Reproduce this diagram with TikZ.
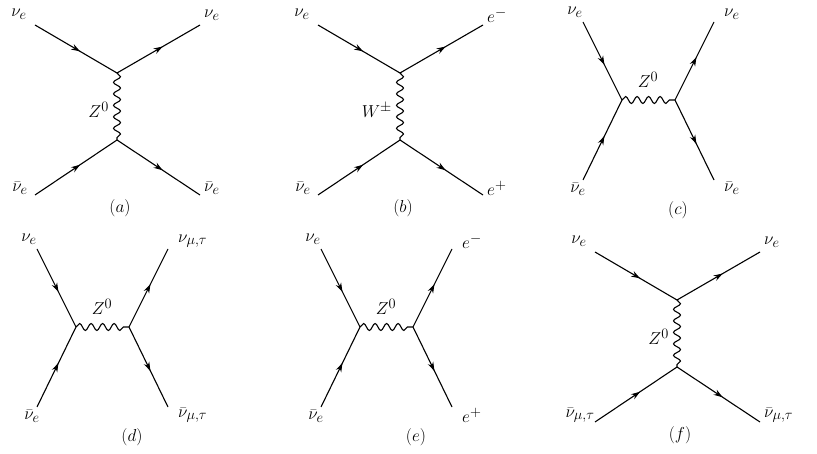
\documentclass[tikz,border=0pt]{standalone}
\usetikzlibrary{decorations.markings,decorations.pathmorphing,arrows.meta}
\begin{document}
\begin{tikzpicture}[x=1pt,y=-1pt,font=\fontsize{19}{23}\selectfont,
  fermion/.style={line width=1.1pt,postaction={decorate},decoration={markings,mark=at position 0.55 with {\arrow{Stealth[length=9pt,width=6pt]}}}},
  boson/.style={line width=1.1pt,decorate,decoration={snake,segment length=11.5pt,amplitude=3.5pt}},
  lab/.style={inner sep=1pt}]
\useasboundingbox (0,0) rectangle (817,454);
% generic t-channel diagram
\newcommand{\tdiag}[9]{% #1 name, #2 xshift,#3 yshift, #4 TL,#5 TR,#6 BL,#7 BR,#8 boson,#9 caption
 \begin{scope}[shift={(#2,#3)}]
 \coordinate (#1tl) at (35,25); \coordinate (#1tr) at (200,25);
 \coordinate (#1bl) at (35,195); \coordinate (#1br) at (200,195);
 \coordinate (#1v1) at (117,73); \coordinate (#1v2) at (117,140);
 \draw[fermion] (#1tl) -- (#1v1); \draw[fermion] (#1v1) -- (#1tr);
 \draw[fermion] (#1bl) -- (#1v2); \draw[fermion] (#1v2) -- (#1br);
 \draw[boson] (#1v1) -- (#1v2);
 \node[lab] (#1a) at (19,14) {$#4$}; \node[lab,anchor=west] (#1b) at (203,15) {$#5$};
 \node[lab] (#1c) at (20,188) {$#6$}; \node[lab,anchor=west] (#1d) at (203,188) {$#7$};
 \node[lab,anchor=east] (#1z) at (110,110) {$#8$};
 \node[lab] (#1cap) at (120,208) {$#9$};
 \end{scope}}
\newcommand{\sdiag}[9]{%
 \begin{scope}[shift={(#2,#3)}]
 \coordinate (#1tl) at (37,22); \coordinate (#1tr) at (168,22);
 \coordinate (#1bl) at (37,180); \coordinate (#1br) at (168,180);
 \coordinate (#1v1) at (76,100); \coordinate (#1v2) at (129,100);
 \draw[fermion] (#1tl) -- (#1v1); \draw[fermion] (#1bl) -- (#1v1);
 \draw[fermion] (#1v2) -- (#1tr); \draw[fermion] (#1v2) -- (#1br);
 \draw[boson] (#1v1) -- (#1v2);
 \node[lab] (#1a) at (29,12) {$#4$}; \node[lab,anchor=west] (#1b) at (177,14) {$#5$};
 \node[lab] (#1c) at (32,189) {$#6$}; \node[lab,anchor=west] (#1d) at (177,188) {$#7$};
 \node[lab] (#1z) at (102,80) {$#8$};
 \node[lab] (#1cap) at (132,210) {$#9$};
 \end{scope}}
\tdiag{a}{0}{0}{\nu_e}{\nu_e}{\bar\nu_e}{\bar\nu_e}{Z^0}{(a)}
\tdiag{b}{283}{0}{\nu_e}{e^-}{\bar\nu_e}{e^+}{W^\pm}{(b)}
\sdiag{c}{546}{0}{\nu_e}{\nu_e}{\bar\nu_e}{\bar\nu_e}{Z^0}{(c)}
\sdiag{d}{0}{227}{\nu_e}{\nu_{\mu,\tau}}{\bar\nu_e}{\bar\nu_{\mu,\tau}}{Z^0}{(d)}
\sdiag{e}{284}{227}{\nu_e}{e^-}{\bar\nu_e}{e^+}{Z^0}{(e)}
\tdiag{f}{560}{227}{\nu_e}{\nu_e}{\bar\nu_{\mu,\tau}}{\bar\nu_{\mu,\tau}}{Z^0}{(f)}
\end{tikzpicture}
\end{document}
